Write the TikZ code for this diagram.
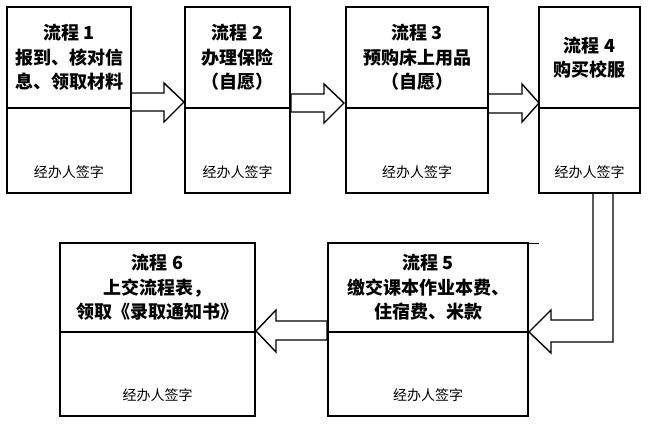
\documentclass[tikz,border=0pt]{standalone}
\usepackage{fontspec}
\setmainfont{Noto Sans CJK SC}
\usetikzlibrary{positioning, calc}

\pgfdeclarelayer{back}
\pgfsetlayers{back,main}

\tikzset{
	stagebox/.style={draw, line width=2.6pt, outer sep=0pt, inner sep=0pt, align=center,
		font=\bfseries\fontsize{18}{24.5}\selectfont},
	signbox/.style={draw, line width=2.6pt, outer sep=0pt, inner sep=0pt},
	signtext/.style={anchor=center, yshift=21pt, font=\fontsize{14}{16}\selectfont},
	blockarrow/.style={draw, fill=white, line width=1.4pt, line join=miter}
}

\begin{document}
\begin{tikzpicture}[x=1pt,y=-1pt]
	\useasboundingbox (0,0) rectangle (648,431);

	% first row
	\node (s1) [stagebox, minimum width=124pt, minimum height=101pt] at (69,57.5) {流程 1\\报到、核对信\\息、领取材料};
	\node (g1) [signbox, minimum width=124pt, minimum height=85pt, below=0pt of s1, label={[signtext]south:经办人签字}] {};
	\node (s2) [stagebox, minimum width=105pt, minimum height=101pt] at (237.5,57.5) {流程 2\\办理保险\\（自愿）};
	\node (g2) [signbox, minimum width=105pt, minimum height=85pt, below=0pt of s2, label={[signtext]south:经办人签字}] {};
	\node (s3) [stagebox, minimum width=142pt, minimum height=101pt] at (417,57.5) {流程 3\\预购床上用品\\（自愿）};
	\node (g3) [signbox, minimum width=142pt, minimum height=85pt, below=0pt of s3, label={[signtext]south:经办人签字}] {};
	\node (s4) [stagebox, minimum width=101pt, minimum height=101pt] at (589.5,57.5) {流程 4\\购买校服};
	\node (g4) [signbox, minimum width=101pt, minimum height=85pt, below=0pt of s4, label={[signtext]south:经办人签字}] {};

	% second row
	\node (s5) [stagebox, minimum width=200pt, minimum height=89pt] at (428,287.5) {流程 5\\缴交课本作业本费、\\住宿费、米款};
	\node (g5) [signbox, minimum width=200pt, minimum height=84pt, below=0pt of s5, label={[signtext]south:经办人签字}] {};
	\node (s6) [stagebox, minimum width=195pt, minimum height=89pt] at (157.5,287.5) {流程 6\\上交流程表，\\领取《录取通知书》};
	\node (g6) [signbox, minimum width=195pt, minimum height=84pt, below=0pt of s6, label={[signtext]south:经办人签字}] {};

	\draw [line width=1pt] (s5.north east) -- ++(11,0);

	\begin{pgfonlayer}{back}
	% 1 -> 2
	\draw [blockarrow] ($(s1.south east)+(0,-15)$) -- ++(33,0) -- ++(0,-10)
		-- ($(s2.south west)+(-1,-6)$) -- ++(-20,20) -- ++(0,-11) -- ++(-33,0) -- cycle;
	% 2 -> 3
	\draw [blockarrow] ($(s2.south east)+(1,-14)$) -- ++(33,0) -- ++(0,-10)
		-- ($(s3.south west)+(-2,-5)$) -- ++(-20,20) -- ++(0,-11) -- ++(-33,0) -- cycle;
	% 3 -> 4
	\draw [blockarrow] ($(s3.south east)+(0,-14)$) -- ++(34,0) -- ++(0,-10)
		-- ($(s4.south west)+(0,-5)$) -- ++(-17,19) -- ++(0,-9) -- ++(-34,0) -- cycle;
	% 4 -> 5
	\draw [blockarrow] ($(g4.south)+(3.5,0)$) -- ++(0,127) -- ++(-42,0) -- ++(0,-10)
		-- ($(s5.south east)+(1,0)$) -- ++(22,21) -- ++(0,-11) -- ++(62,0) -- ++(0,-149) -- cycle;
	% 5 -> 6
	\draw [blockarrow] ($(s5.south west)+(-1,-11)$) -- ++(-51,0) -- ++(0,-11)
		-- ($(s6.south east)+(1,-1)$) -- ++(20,21) -- ++(0,-12) -- ++(51,0) -- cycle;
	\end{pgfonlayer}

\end{tikzpicture}
\end{document}
